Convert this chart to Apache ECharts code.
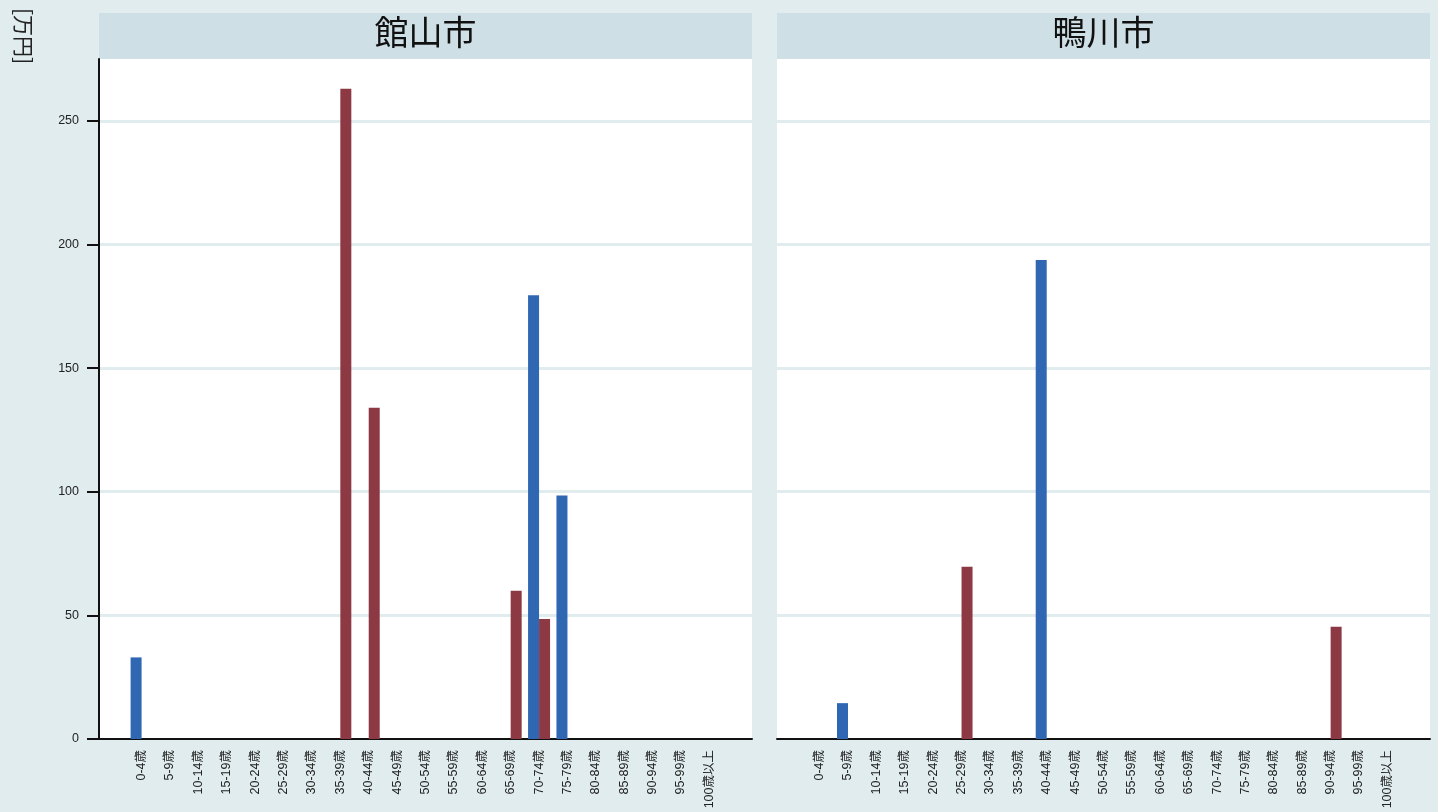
<!DOCTYPE html>
<html><head><meta charset="utf-8">
<script src="https://cdn.jsdelivr.net/npm/echarts@6/dist/echarts.min.js"></script>
<style>html,body{margin:0;padding:0;background:#e1ecee;}#c{width:1438px;height:812px;}</style>
</head><body><div id="c"></div>
<script>
const categories = ['0-4歳','5-9歳','10-14歳','15-19歳','20-24歳','25-29歳','30-34歳','35-39歳','40-44歳','45-49歳','50-54歳','55-59歳','60-64歳','65-69歳','70-74歳','75-79歳','80-84歳','85-89歳','90-94歳','95-99歳','100歳以上'];
const panelTitles = ['館山市','鴨川市'];
const yTicks = [0,50,100,150,200,250];
const yUnit = '[万円]';
// 館山市
const tateyamaBlue = [33,0,0,0,0,0,0,0,0,0,0,0,0,0,179.5,98.5,0,0,0,0,0];
const tateyamaRed  = [0,0,0,0,0,0,0,263,134,0,0,0,0,60,48.5,0,0,0,0,0,0];
// 鴨川市
const kamogawaBlue = [0,14.5,0,0,0,0,0,0,193.7,0,0,0,0,0,0,0,0,0,0,0,0];
const kamogawaRed  = [0,0,0,0,0,69.7,0,0,0,0,0,0,0,0,0,0,0,0,45.4,0,0];

const BLUE = '#3067b2', RED = '#8c3944', GRIDC = '#e1ecee', HEAD = '#cedfe5';
const padCats = [''].concat(categories, ['']);
const pad = a => [null].concat(a.map(v => v === 0 ? null : v), [null]);

const chart = echarts.init(document.getElementById('c'));
const panels = [{left:99, data:[tateyamaBlue, tateyamaRed], showY:true},
                {left:777, data:[kamogawaBlue, kamogawaRed], showY:false}];
const W = 653;
const option = {
  backgroundColor: '#e1ecee',
  animation: false,
  textStyle: {fontFamily: 'Liberation Sans, Arial, Noto Sans CJK JP'},
  grid: panels.map(p => ({left:p.left, top:59, width:W, bottom:73, show:true, backgroundColor:'#ffffff', borderWidth:0, containLabel:false, outerBoundsMode:'none'})),
  graphic: [
    ...panels.map((p,i) => ({type:'rect', left:p.left, top:13, shape:{width:W, height:46}, style:{fill:HEAD}, silent:true})),
    ...panels.map((p,i) => ({type:'text', x:p.left + W/2, y:32, style:{text:panelTitles[i], fontSize:34, fill:'#111', align:'center', verticalAlign:'middle', fontFamily:'Noto Sans CJK JP'}})),
    {type:'text', x:24, y:36, rotation:-Math.PI/2, style:{text:yUnit, fontSize:21, fill:'#222', align:'center', verticalAlign:'middle', fontFamily:'Noto Sans CJK JP'}}
  ],
  xAxis: panels.map((p,i) => ({
    type:'category', gridIndex:i, data:padCats, boundaryGap:true,
    axisLine:{show:true, lineStyle:{color:'#111', width:2}},
    axisTick:{show:false},
    axisLabel:{interval:0, rotate:90, fontSize:12.5, color:'#222', margin:11, fontFamily:'Liberation Sans, Arial, Noto Sans CJK JP'}
  })),
  yAxis: panels.map((p,i) => ({
    type:'value', gridIndex:i, min:0, max:275, interval:50,
    axisLine:{show:p.showY, lineStyle:{color:'#111', width:2}},
    axisTick:{show:p.showY, length:12, lineStyle:{color:'#111', width:2}, customValues: yTicks},
    axisLabel:{show:p.showY, fontSize:12.5, color:'#222', margin:20, customValues: yTicks},
    splitLine:{show:true, lineStyle:{color:GRIDC, width:3}}
  })),
  series: panels.flatMap((p,i) => [
    {type:'bar', name:'男性', xAxisIndex:i, yAxisIndex:i, data:pad(p.data[0]), barWidth:11, barGap:'0%', itemStyle:{color:BLUE}},
    {type:'bar', name:'女性', xAxisIndex:i, yAxisIndex:i, data:pad(p.data[1]), barWidth:11, barGap:'0%', itemStyle:{color:RED}}
  ])
};
chart.setOption(option);
</script>
</body></html>
